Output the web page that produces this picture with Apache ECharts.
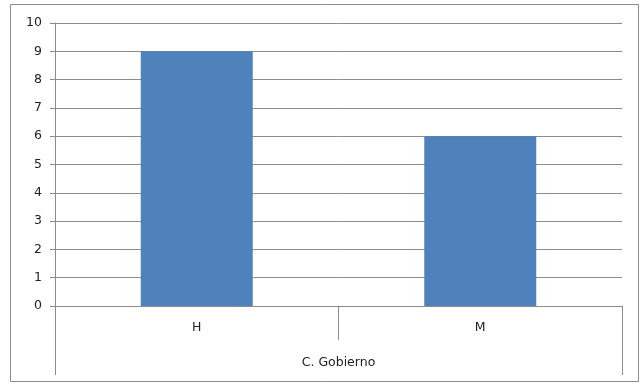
<!DOCTYPE html>
<html>
<head>
<meta charset="utf-8">
<script src="https://cdn.jsdelivr.net/npm/echarts@6/dist/echarts.min.js"></script>
<style>
  html, body { margin: 0; padding: 0; background: #fff; }
  #chart { width: 642px; height: 384px; }
</style>
</head>
<body>
<div id="chart"></div>
<script>
// Category labels, group label and bar values
const categories = ['H', 'M'];
const groupLabels = ['C. Gobierno'];
const values = [9, 6];

const axisGray = '#8c8c8c';
const textStyle = { color: '#222', fontFamily: 'DejaVu Sans', fontSize: 12.5 };

const chart = echarts.init(document.getElementById('chart'));
chart.setOption({
  animation: false,
  backgroundColor: '#fff',
  graphic: [{
    type: 'rect',
    shape: { x: 10.5, y: 4.5, width: 628, height: 377 },
    style: { fill: 'none', stroke: axisGray, lineWidth: 1 },
    silent: true
  }],
  grid: { left: 55, right: 20, top: 23, bottom: 78 },
  xAxis: [{
    type: 'category',
    data: categories,
    position: 'bottom',
    axisLine: { show: true, lineStyle: { color: axisGray } },
    axisTick: { show: true, length: 34, lineStyle: { color: axisGray } },
    axisLabel: Object.assign({ margin: 15 }, textStyle)
  }, {
    type: 'category',
    data: groupLabels,
    position: 'bottom',
    axisLine: { show: false },
    axisTick: { show: true, length: 69, lineStyle: { color: axisGray } },
    axisLabel: Object.assign({ margin: 50 }, textStyle)
  }],
  yAxis: {
    type: 'value',
    min: 0,
    max: 10,
    interval: 1,
    axisLine: { show: true, lineStyle: { color: axisGray } },
    axisTick: { show: true, length: 5, lineStyle: { color: axisGray } },
    splitLine: { show: true, lineStyle: { color: axisGray } },
    axisLabel: Object.assign({ margin: 13 }, textStyle)
  },
  series: [{
    type: 'bar',
    xAxisIndex: 0,
    data: values,
    barWidth: '39.5%',
    itemStyle: { color: '#4f81bd' }
  }]
});
</script>
</body>
</html>
